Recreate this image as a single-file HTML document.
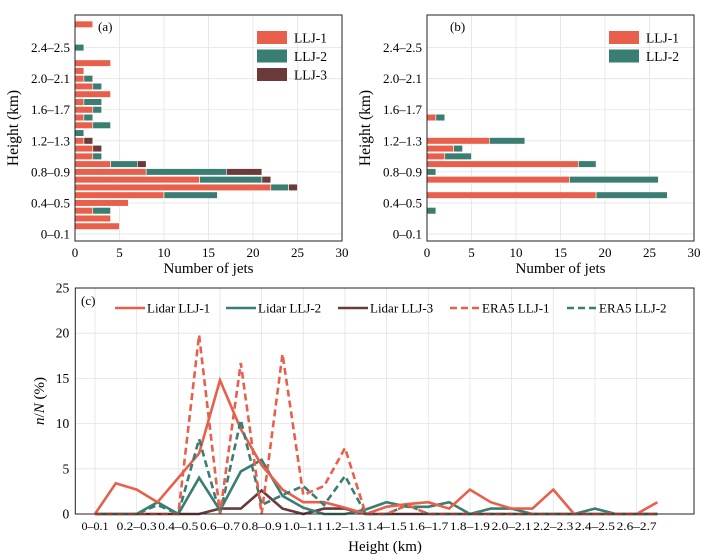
<!DOCTYPE html>
<html><head><meta charset="utf-8"><style>
body{margin:0;background:#fff;}
svg{display:block;}
svg text{font-family:"Liberation Serif","DejaVu Serif","Times New Roman",serif;}
</style></head><body>
<svg id="fig" width="709" height="559" viewBox="0 0 709 559"></svg>
<script>
// Panel (a): counts per height bin (bin i = i*0.1 to i*0.1+0.1 km)
const aLLJ1 = [0,5,4,2,6,10,22,14,8,4,2,2,1,0,2,1,2,1,4,2,1,1,4,0,0,0,0,2];
const aLLJ2 = [0,0,0,2,0,6,2,7,9,3,1,0,0,1,2,1,1,2,0,1,1,0,0,0,1,0,0,0];
const aLLJ3 = [0,0,0,0,0,0,1,1,4,1,0,1,1,0,0,0,0,0,0,0,0,0,0,0,0,0,0,0];
// Panel (b)
const bLLJ1 = [0,0,0,0,0,19,0,16,0,17,2,3,7,0,0,1,0,0,0,0,0,0,0,0,0,0,0,0];
const bLLJ2 = [0,0,0,1,0,8,0,10,1,2,3,1,4,0,0,1,0,0,0,0,0,0,0,0,0,0,0,0];
const yTickLabels = ["0\u20130.1","0.4\u20130.5","0.8\u20130.9","1.2\u20131.3","1.6\u20131.7","2.0\u20132.1","2.4\u20132.5"];
const xTicksBar = [0,5,10,15,20,25,30];
// Panel (c): n/N (%)
const cLidar1 = [0,3.4,2.7,1.3,4.0,6.7,14.8,9.4,5.4,2.7,1.3,1.3,0.7,0,0.8,1.1,1.3,0.6,2.7,1.3,0.6,0.6,2.7,0,0,0,0,1.3];
const cLidar2 = [0,0,0,1.3,0,4.0,0.4,4.7,6.0,2.0,0.7,0,0,0.5,1.3,0.8,0.8,1.3,0,0.6,0.6,0,0,0,0.6,0,0,0];
const cLidar3 = [0,0,0,0,0,0,0.6,0.6,2.6,0.6,0,0.6,0.6,0,0,0,0,0,0,0,0,0,0,0,0,0,0,0];
const cEra1 = [0,0,0,0,0,19.8,0,16.7,0,17.7,2.1,3.1,7.3,0,0,1.0,0,0,0,0,0,0,0,0,0,0,0,0];
const cEra2 = [0,0,0,1.0,0,8.3,0,10.4,1.0,2.1,3.1,1.0,4.2,0,0,1.0,0,0,0,0,0,0,0,0,0,0,0,0];
const cXLabels = ["0\u20130.1","0.2\u20130.3","0.4\u20130.5","0.6\u20130.7","0.8\u20130.9","1.0\u20131.1","1.2\u20131.3","1.4\u20131.5","1.6\u20131.7","1.8\u20131.9","2.0\u20132.1","2.2\u20132.3","2.4\u20132.5","2.6\u20132.7"];
const cYTicks = [0,5,10,15,20,25];

const OR="#e8604c", TE="#3a7d72", BR="#6b3a3a";
const svg=document.getElementById('fig');
const NS="http://www.w3.org/2000/svg";
function mk(tag,attrs,parent,txt){const e=document.createElementNS(NS,tag);for(const k in attrs)e.setAttribute(k,attrs[k]);if(txt!==undefined)e.textContent=txt;(parent||svg).appendChild(e);return e;}

function barPanel(x0,x1,label,series,colors,names,legX,pname){
  const g=mk('g',{});
  
  
  const y0=15,y1=241;
  const xs=v=>x0+(v/30)*(x1-x0);
  const ys=b=>y1-((b+0.9)/29.1)*(y1-y0);
  xTicksBar.forEach(t=>{const l=mk('line',{x1:xs(t),x2:xs(t),y1:y0,y2:y1,stroke:'#e3e3e3','stroke-width':0.8},g);
    
    const tx=mk('text',{x:xs(t),y:y1+16,'text-anchor':'middle','font-size':13},g,String(t));
    });
  yTickLabels.forEach((s,i)=>{const b=i*4;const l=mk('line',{x1:x0,x2:x1,y1:ys(b),y2:ys(b),stroke:'#e3e3e3','stroke-width':0.8},g);
    
    const tx=mk('text',{x:x0-5,y:ys(b)+4.5,'text-anchor':'end','font-size':13},g,s);
    });
  for(let b=0;b<28;b++){let acc=0;
    series.forEach((arr,si)=>{const v=arr[b];if(v>0){const r=mk('rect',{x:xs(acc),y:ys(b)-3.3,width:xs(acc+v)-xs(acc),height:6.6,fill:colors[si],stroke:'#fff','stroke-width':0.6},g);
      }acc+=v;});}
  const fr=mk('rect',{x:x0,y:y0,width:x1-x0,height:y1-y0,fill:'none',stroke:'#222','stroke-width':1},g);
  
  const pl=mk('text',{x:x0+23,y:y0+16,'font-size':13},g,label);
  
  names.forEach((n,i)=>{const ly=31+i*18.5;
    const r=mk('rect',{x:legX,y:ly,width:30,height:13,fill:colors[i]},g);
    
    const t=mk('text',{x:legX+37,y:ly+11.5,'font-size':13.5},g,n);
    });
  const xl=mk('text',{x:(x0+x1)/2,y:273,'text-anchor':'middle','font-size':15},g,'Number of jets');
  
  const yl=mk('text',{x:0,y:0,'text-anchor':'middle','font-size':15.5,transform:`translate(${x0-57},${(y0+y1)/2}) rotate(-90)`},g,'Height (km)');
  
}
barPanel(75,342,'(a)',[aLLJ1,aLLJ2,aLLJ3],[OR,TE,BR],['LLJ-1','LLJ-2','LLJ-3'],257,'panel-a');
barPanel(427,694,'(b)',[bLLJ1,bLLJ2],[OR,TE],['LLJ-1','LLJ-2'],609,'panel-b');

(function(){
  const g=mk('g',{});
  
  
  const x0=75.3,x1=694,y0=288,y1=514;
  const xs=b=>95+b*20.83;
  const ys=v=>y1-(v/25)*(y1-y0);
  for(let i=0;i<cXLabels.length;i++){const b=i*2;
    const l=mk('line',{x1:xs(b),x2:xs(b),y1:y0,y2:y1,stroke:'#e3e3e3','stroke-width':0.8},g);
    
    const attrs=i===0?{x:xs(b),y:530,'font-size':12,'text-anchor':'middle'}:{x:xs(b)-20,y:530,'font-size':12,textLength:40,lengthAdjust:'spacingAndGlyphs'};
    const t=mk('text',attrs,g,cXLabels[i]);
    }
  cYTicks.forEach(v=>{const l=mk('line',{x1:x0,x2:x1,y1:ys(v),y2:ys(v),stroke:'#e3e3e3','stroke-width':0.8},g);
    
    const t=mk('text',{x:x0-6,y:ys(v)+4.5,'text-anchor':'end','font-size':13.5},g,String(v));
    });
  const series=[[cLidar3,BR,null,'line-lidar-llj3'],[cLidar2,TE,null,'line-lidar-llj2'],[cLidar1,OR,null,'line-lidar-llj1'],[cEra2,TE,'7,4','line-era5-llj2'],[cEra1,OR,'7,4','line-era5-llj1']];
  series.forEach(([arr,c,d,n])=>{const pts=arr.map((v,i)=>xs(i).toFixed(1)+','+ys(v).toFixed(1)).join(' ');
    const a={points:pts,fill:'none',stroke:c,'stroke-width':2.6,'stroke-linejoin':'miter'};if(d)a['stroke-dasharray']=d;
    const p=mk('polyline',a,g);});
  const fr=mk('rect',{x:x0,y:y0,width:x1-x0,height:y1-y0,fill:'none',stroke:'#222','stroke-width':1},g);
  
  const pl=mk('text',{x:81,y:305,'font-size':13},g,'(c)');
  
  const leg=[[115,OR,null,'Lidar LLJ-1'],[226,TE,null,'Lidar LLJ-2'],[338,BR,null,'Lidar LLJ-3'],[450,OR,'7,4','ERA5 LLJ-1'],[567,TE,'7,4','ERA5 LLJ-2']];
  leg.forEach(([lx,c,d,n])=>{const a={x1:lx,x2:lx+30,y1:308,y2:308,stroke:c,'stroke-width':2.6};if(d)a['stroke-dasharray']=d;
    const l=mk('line',a,g);
    const t=mk('text',{x:lx+32,y:312.5,'font-size':13},g,n);});
  const xl=mk('text',{x:385,y:551,'text-anchor':'middle','font-size':15},g,'Height (km)');
  
  const yl=mk('text',{x:0,y:0,'text-anchor':'middle','font-size':15,transform:`translate(44,${(y0+y1)/2}) rotate(-90)`},g);
  
  mk('tspan',{'font-style':'italic'},yl,'n');mk('tspan',{},yl,'/');mk('tspan',{'font-style':'italic'},yl,'N');mk('tspan',{},yl,' (%)');
})();
</script>
</body></html>
